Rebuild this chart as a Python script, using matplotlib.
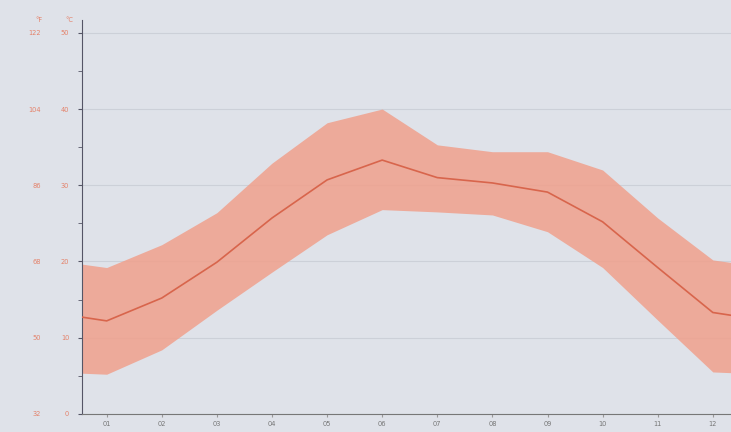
import numpy as np
import matplotlib.pyplot as plt

months = ["01", "02", "03", "04", "05", "06", "07", "08", "09", "10", "11", "12"]
temp_mean = [12.2, 15.2, 19.9, 25.7, 30.7, 33.3, 31.0, 30.3, 29.1, 25.2, 19.2, 13.3]
temp_high = [19.2, 22.2, 26.4, 32.9, 38.2, 40.0, 35.3, 34.4, 34.4, 32.0, 25.7, 20.2]
temp_low = [5.2, 8.4, 13.6, 18.6, 23.5, 26.8, 26.5, 26.1, 23.9, 19.2, 12.3, 5.5]
c_ticks = [0, 10, 20, 30, 40, 50]
f_ticks = [32, 50, 68, 86, 104, 122]

BG = '#dfe2e9'
LINE = '#d8654c'
BAND = '#f0a08c'
LABEL = '#e4826a'


def wrap(vals):
    # repeat Dec before Jan and Jan after Dec so the curve runs to the edges
    return [vals[-1]] + list(vals) + [vals[0]]


x = np.arange(0, 14)

fig = plt.figure(figsize=(7.31, 4.32), dpi=100, facecolor=BG)
ax = fig.add_axes([0.112, 0.042, 0.888, 0.912], facecolor=BG)

ax.fill_between(x, wrap(temp_low), wrap(temp_high), color=BAND, alpha=0.85,
                linewidth=0, zorder=2)
ax.plot(x, wrap(temp_mean), color=LINE, linewidth=1.2, zorder=3)

ax.set_xlim(0.55, 12.33)
ax.set_ylim(0, 51.7)

ax.set_yticks(c_ticks)
ax.set_yticklabels([str(t) for t in c_ticks], color=LABEL, fontsize=4.8)
ax.set_yticks(np.arange(5, 50, 10), minor=True)
ax.tick_params(axis='y', which='both', length=3, color='#555566', pad=6)
ax.grid(axis='y', color='#ccd0d8', linewidth=0.8, zorder=0)

ax.set_xticks(range(1, 13))
ax.set_xticklabels(months, color='#777777', fontsize=4.8)
ax.tick_params(axis='x', length=2, color='#999999', pad=3)

for side in ('top', 'right'):
    ax.spines[side].set_visible(False)
ax.spines['left'].set_color('#555566')
ax.spines['bottom'].set_color('#777777')

sec = ax.secondary_yaxis(-0.055, functions=(lambda c: c * 9 / 5 + 32,
                                             lambda f: (f - 32) * 5 / 9))
sec.set_yticks(f_ticks)
sec.set_yticklabels([str(t) for t in f_ticks], color=LABEL, fontsize=4.8)
sec.tick_params(length=0)
sec.spines['left'].set_visible(False)

ax.text(-0.019, 1.0, '°C', transform=ax.transAxes, ha='center', va='center',
        color=LABEL, fontsize=4.8)
ax.text(-0.066, 1.0, '°F', transform=ax.transAxes, ha='center', va='center',
        color=LABEL, fontsize=4.8)

fig.savefig('out.png', dpi=100, facecolor=BG)
